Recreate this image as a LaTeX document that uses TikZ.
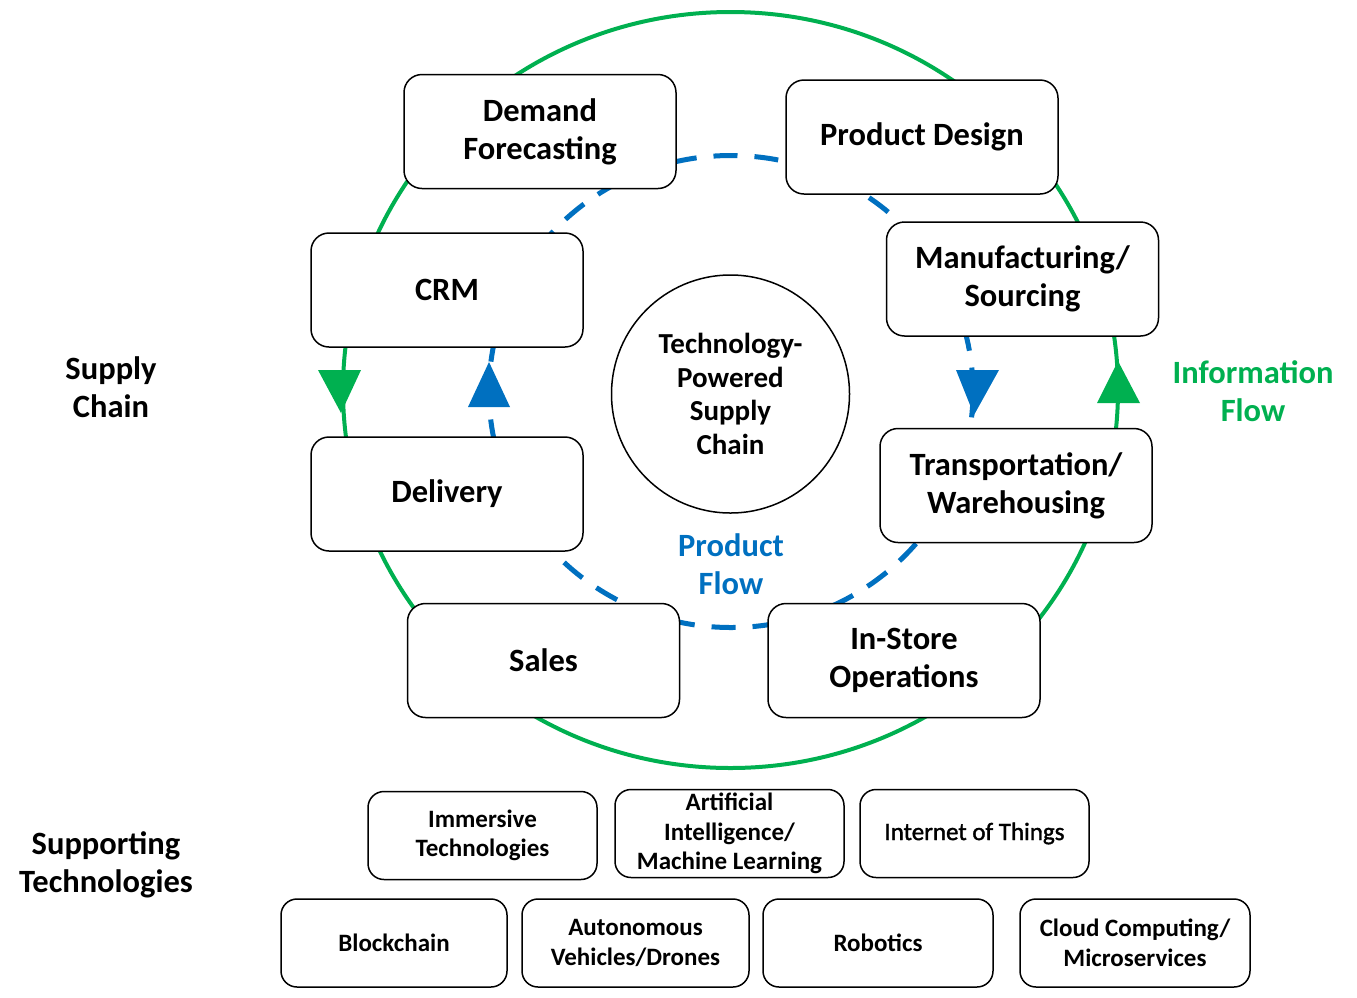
\documentclass[tikz,border=0pt]{standalone}
\usepackage{fontspec}
\setmainfont{Carlito}
\newfontfamily\semibold[FakeBold=1.5]{Carlito}
\definecolor{ggreen}{HTML}{00B050}
\definecolor{bblue}{HTML}{0070C0}
\begin{document}
\begin{tikzpicture}[x=1pt,y=-1pt,
  mainbox/.style={draw=black,line width=1.5pt,fill=white,rounded corners=18pt,minimum width=272pt,minimum height=114pt,align=center,font=\fontsize{32.5}{38}\selectfont\bfseries,inner sep=0pt},
  techbox/.style={draw=black,line width=1.5pt,fill=white,rounded corners=16pt,minimum height=88pt,align=center,font=\fontsize{25}{29.5}\selectfont\bfseries,inner sep=0pt},
  sidelabel/.style={align=center,font=\fontsize{32.5}{37.5}\selectfont\bfseries}]
\useasboundingbox (0,0) rectangle (1357,997);
% rings
\draw[ggreen,line width=4pt] (730.5,390) ellipse [x radius=387.5pt,y radius=378pt];
\draw[bblue,line width=5pt,dash pattern=on 24pt off 17pt] (731,391.5) ellipse [x radius=242pt,y radius=236pt];
% arrowheads
\fill[ggreen] (318,370) -- (361,370) -- (341,413) -- cycle;
\fill[bblue] (468,407) -- (510,407) -- (489,362) -- cycle;
\fill[bblue] (956,370) -- (999,370) -- (974,415) -- cycle;
\fill[ggreen] (1097,403) -- (1140,403) -- (1118,361) -- cycle;
% center
\node[draw=black,line width=1.5pt,circle,minimum size=238pt,align=center,font=\fontsize{29}{33.5}\selectfont\bfseries,inner sep=0pt] (core) at (730.5,394) {Technology-\\Powered\\Supply\\Chain};
% main boxes
\node[mainbox] (demand) at (540,131.5) {Demand\\Forecasting};
\node[mainbox] (design) at (922,137) {Product Design};
\node[mainbox] (crm) at (447,290) {CRM};
\node[mainbox] (manu) at (1022.5,279) {Manufacturing/\\Sourcing};
\node[mainbox] (deliv) at (447,494) {Delivery};
\node[mainbox] (trans) at (1016,485.5) {Transportation/\\Warehousing};
\node[mainbox] (sales) at (543.5,660.5) {Sales};
\node[mainbox] (store) at (904,660.5) {In-Store\\Operations};
% labels
\node[sidelabel] (sc) at (111,387) {Supply\\Chain};
\node[sidelabel,text=ggreen] (info) at (1253,391) {Information\\Flow};
\node[sidelabel,text=bblue] (pflow) at (731,564) {Product\\Flow};
\node[sidelabel] (st) at (106,865) {Supporting\\Technologies};
% technology boxes
\node[techbox,minimum width=229pt] (imm) at (482.5,835.5) {Immersive\\Technologies};
\node[techbox,minimum width=229pt] (ai) at (729.5,833.5) {Artificial\\Intelligence/\\Machine Learning};
\node[techbox,minimum width=229pt,font=\fontsize{25}{29.5}\semibold] (iot) at (974.5,833.5) {Internet of Things};
\node[techbox,minimum width=226pt] (block) at (394,943) {Blockchain};
\node[techbox,minimum width=227pt] (auto) at (635.5,943) {Autonomous\\Vehicles/Drones};
\node[techbox,minimum width=230pt] (robot) at (878,943) {Robotics};
\node[techbox,minimum width=230pt] (cloud) at (1135,943) {Cloud Computing/\\Microservices};
\end{tikzpicture}
\end{document}
